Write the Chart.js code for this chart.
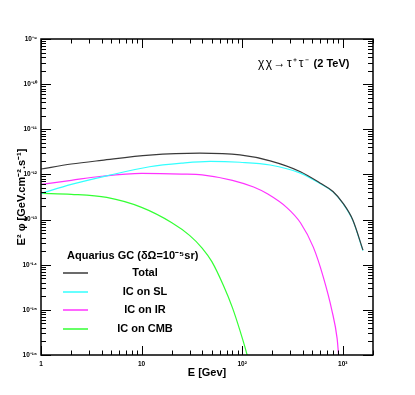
<!DOCTYPE html>
<html>
<head>
<meta charset="utf-8">
<script src="https://cdn.jsdelivr.net/npm/chart.js@4.4.0/dist/chart.umd.min.js"></script>
<style>
  body { margin: 0; background: #fff; }
  #chart { display: block; }
</style>
</head>
<body>
<canvas id="chart" width="415" height="395"></canvas>
<script>
// E in GeV, E^2 phi in GeV cm^-2 s^-1
const energyTotal = [1, 2, 4, 12, 38, 95, 190, 380, 600, 800, 1000, 1260, 1590];
const fluxTotal = [1.32e-12, 1.70e-12, 2.05e-12, 2.67e-12, 2.95e-12, 2.7e-12, 2.0e-12, 1.15e-12, 6.4e-13, 4.2e-13, 2.35e-13, 9.8e-14, 2.1e-14];

const energySL = [1, 2, 4.5, 12, 25, 48, 95, 190, 380, 600, 800, 1000, 1260, 1590];
const fluxSL = [3.8e-13, 6.0e-13, 9.3e-13, 1.48e-12, 1.78e-12, 1.95e-12, 1.86e-12, 1.62e-12, 1.07e-12, 6.2e-13, 4.1e-13, 2.3e-13, 9.6e-14, 2.05e-14];

const energyIR = [1, 2, 4, 10, 25, 40, 80, 130, 180, 280, 380, 510, 640, 780, 880, 910, 950];
const fluxIR = [6.0e-13, 7.4e-13, 9.1e-13, 1.05e-12, 1.02e-12, 9.8e-13, 7.4e-13, 5.25e-13, 3.67e-13, 1.82e-13, 8.5e-14, 2.45e-14, 5.4e-15, 9.8e-16, 2.3e-16, 1.0e-16, 4e-17];

const energyCMB = [1, 2, 4.5, 10, 20, 30, 40, 50, 65, 80, 95, 112, 120];
const fluxCMB = [3.8e-13, 3.63e-13, 3.09e-13, 1.86e-13, 8.5e-14, 4.47e-14, 2.34e-14, 1.17e-14, 3.5e-15, 1.12e-15, 3.5e-16, 1.0e-16, 5e-17];

const seriesLabels = ['Total', 'IC on SL', 'IC on IR', 'IC on CMB'];
const seriesColors = ['#3a3a3a', '#33ffff', '#ff33ff', '#33ff33'];

const xTickValues = [1, 10, 100, 1000];
const yTickValues = [1e-16, 1e-15, 1e-14, 1e-13, 1e-12, 1e-11, 1e-10, 1e-9];
const xMin = 1, xMax = 2000, yMin = 1e-16, yMax = 1e-9;

const legendTitle = 'Aquarius GC (δΩ=10⁻⁵sr)';
const processText = 'χχ→τ⁺τ⁻';
const massText = '(2 TeV)';
const xTitle = 'E [Gev]';
const yTitle = 'E² φ [GeV.cm⁻².s⁻¹]';

const supMap = { '-': '⁻', '0': '⁰', '1': '¹', '2': '²', '3': '³', '4': '⁴', '5': '⁵', '6': '⁶', '7': '⁷', '8': '⁸', '9': '⁹' };
const toSup = s => String(s).split('').map(c => supMap[c]).join('');

const powLabel = v => {
    const e = Math.round(Math.log10(v));
    if (e === 0) return '1';
    if (e === 1) return '10';
    return '10' + toSup(e);
};

const toPoints = (xs, ys) => xs.map((x, i) => ({ x: x, y: ys[i] }));

const FONT = '"Liberation Sans", Arial, sans-serif';

// frame, inward ROOT-style ticks and all the text
const rootStyle = {
    id: 'rootStyle',
    beforeDraw(chart) {
        const ctx = chart.ctx;
        ctx.save();
        ctx.fillStyle = '#fff';
        ctx.fillRect(0, 0, chart.width, chart.height);
        ctx.restore();
    },
    afterDraw(chart) {
        const { ctx, chartArea: a, scales: { x, y } } = chart;
        ctx.save();
        ctx.strokeStyle = '#000';
        ctx.lineWidth = 1;
        ctx.beginPath();
        xTickValues.forEach(d => {
            for (let k = 1; k <= 9; k++) {
                const v = d * k;
                if (v > xMax) break;
                const px = Math.round(x.getPixelForValue(v)) + 0.5;
                const len = k === 1 ? 9 : 4.5;
                ctx.moveTo(px, a.bottom); ctx.lineTo(px, a.bottom - len);
                ctx.moveTo(px, a.top); ctx.lineTo(px, a.top + len);
            }
        });
        yTickValues.forEach(d => {
            for (let k = 1; k <= 9; k++) {
                const v = d * k;
                if (v > yMax * 1.001) break;
                const py = Math.round(y.getPixelForValue(v)) + 0.5;
                const len = k === 1 ? 10 : 5;
                ctx.moveTo(a.left, py); ctx.lineTo(a.left + len, py);
                ctx.moveTo(a.right, py); ctx.lineTo(a.right - len, py);
            }
        });
        ctx.stroke();
        ctx.lineWidth = 1.5;
        ctx.strokeRect(a.left, a.top, a.right - a.left, a.bottom - a.top);

        ctx.fillStyle = '#000';
        ctx.font = 'bold 11px ' + FONT;
        ctx.textBaseline = 'middle';

        // axis titles
        ctx.textAlign = 'center';
        ctx.fillText(xTitle, (a.left + a.right) / 2, 373);
        ctx.save();
        ctx.translate(22, (a.top + a.bottom) / 2);
        ctx.rotate(-Math.PI / 2);
        ctx.fillText(yTitle, 0, 0);
        ctx.restore();

        // process label
        ctx.textAlign = 'left';
        ctx.font = '12px ' + FONT;
        ctx.letterSpacing = '1.5px';
        const w1 = ctx.measureText(processText).width;
        ctx.fillText(processText, 258, 64);
        ctx.letterSpacing = '0px';
        ctx.font = 'bold 11px ' + FONT;
        ctx.fillText(massText, 258 + w1 + 3, 64);

        // legend
        ctx.fillText(legendTitle, 67, 256);
        const rows = [273, 292, 310, 329];
        chart.data.datasets.forEach((ds, i) => {
            ctx.strokeStyle = ds.borderColor;
            ctx.lineWidth = 1.5;
            ctx.beginPath();
            ctx.moveTo(63, rows[i]);
            ctx.lineTo(88, rows[i]);
            ctx.stroke();
            ctx.textAlign = 'center';
            ctx.fillText(ds.label, 145, rows[i]);
        });
        ctx.restore();
    }
};

const tickFont = { family: FONT, size: 6.5, weight: 'bold' };

new Chart(document.getElementById('chart'), {
    type: 'scatter',
    data: {
        datasets: [
            toPoints(energyTotal, fluxTotal),
            toPoints(energySL, fluxSL),
            toPoints(energyIR, fluxIR),
            toPoints(energyCMB, fluxCMB),
        ].map((pts, i) => ({
            label: seriesLabels[i],
            data: pts,
            borderColor: seriesColors[i],
            backgroundColor: seriesColors[i],
            borderWidth: 1.2,
            showLine: true,
            pointRadius: 0,
            fill: false,
            cubicInterpolationMode: 'monotone',
        })),
    },
    options: {
        responsive: false,
        animation: false,
        layout: { padding: { left: 0, top: 39, right: 42, bottom: 0 } },
        plugins: {
            legend: { display: false },
            tooltip: { enabled: false },
        },
        scales: {
            x: {
                type: 'logarithmic',
                min: xMin,
                max: xMax,
                afterBuildTicks: s => { s.ticks = xTickValues.map(v => ({ value: v })); },
                afterFit: s => { s.height = 40; },
                grid: { display: false, drawTicks: false },
                border: { display: false },
                ticks: {
                    callback: v => powLabel(v),
                    font: tickFont,
                    color: '#000',
                    padding: 5,
                    autoSkip: false,
                    maxRotation: 0,
                },
            },
            y: {
                type: 'logarithmic',
                min: yMin,
                max: yMax,
                afterBuildTicks: s => { s.ticks = yTickValues.map(v => ({ value: v })); },
                afterFit: s => { s.width = 41; },
                grid: { display: false, drawTicks: false },
                border: { display: false },
                ticks: {
                    callback: v => powLabel(v),
                    font: tickFont,
                    color: '#000',
                    padding: 4,
                    autoSkip: false,
                },
            },
        },
    },
    plugins: [rootStyle],
});
</script>
</body>
</html>
